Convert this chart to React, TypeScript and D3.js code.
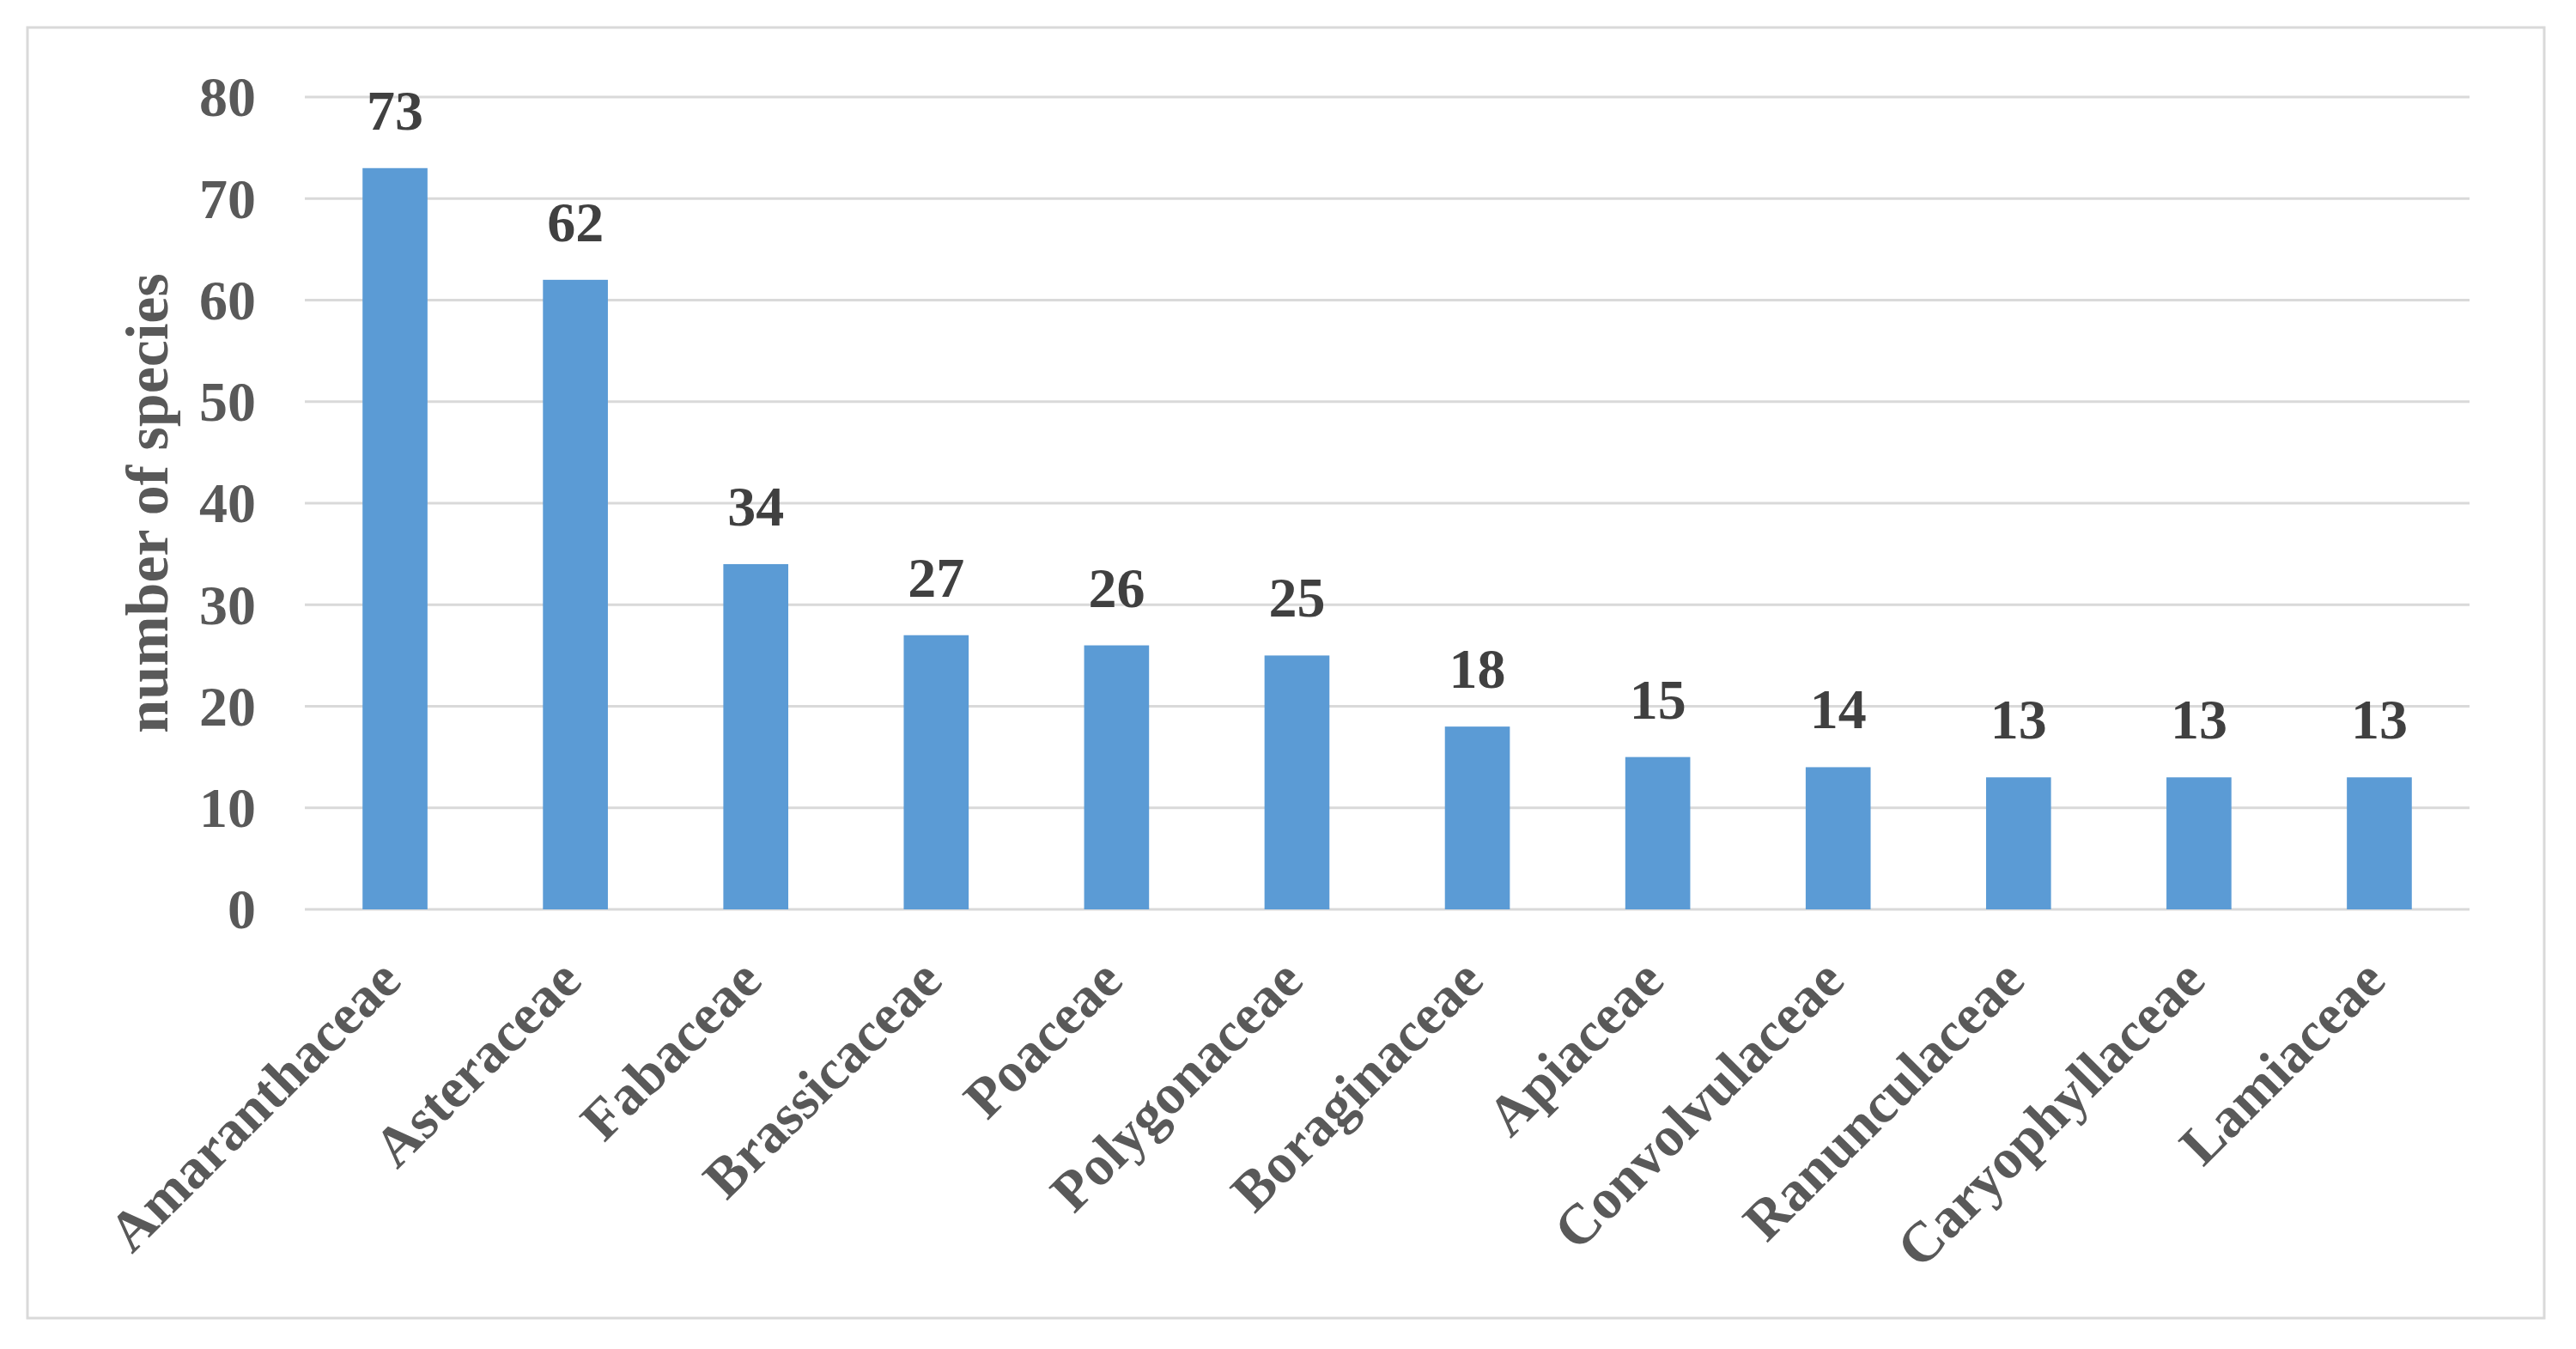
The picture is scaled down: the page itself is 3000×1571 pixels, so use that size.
import React, { useEffect, useRef } from "react";
import * as d3 from "d3";

// families and species counts
const families = [
  "Amaranthaceae", "Asteraceae", "Fabaceae", "Brassicaceae", "Poaceae", "Polygonaceae",
  "Boraginaceae", "Apiaceae", "Convolvulaceae", "Ranunculaceae", "Caryophyllaceae", "Lamiaceae",
];
const counts = [73, 62, 34, 27, 26, 25, 18, 15, 14, 13, 13, 13];
const yTicks = [0, 10, 20, 30, 40, 50, 60, 70, 80];
const yTitle = "number  of  species";

const W = 3000, H = 1571;
const FONT = "'Liberation Serif', 'Times New Roman', serif";

export default function App() {
  const ref = useRef<SVGSVGElement>(null);

  useEffect(() => {
    const svg = d3.select(ref.current);
    svg.selectAll("*").remove();

    var margin = { top: 113, left: 355, right: W - 2876, bottom: H - 1059 };

    const x = d3.scaleBand()
      .domain(families)
      .range([margin.left, W - margin.right])
      .paddingInner(0.64)
      .paddingOuter(0.32);
    const y = d3.scaleLinear().domain([0, 80]).range([H - margin.bottom, margin.top]);

    // outer frame
    svg.append("rect")
      .attr("x", 32).attr("y", 32)
      .attr("width", 2931).attr("height", 1503)
      .attr("fill", "white")
      .attr("stroke", "#d9d9d9").attr("stroke-width", 3);

    // gridlines
    svg.append("g").selectAll("line")
      .data(yTicks).join("line")
      .attr("x1", margin.left).attr("x2", W - margin.right)
      .attr("y1", d => y(d)).attr("y2", d => y(d))
      .attr("stroke", "#d9d9d9").attr("stroke-width", 3);

    // y tick labels
    svg.append("g").selectAll("text")
      .data(yTicks).join("text")
      .attr("x", 298).attr("y", d => y(d))
      .attr("dy", "0.34em")
      .attr("text-anchor", "end")
      .attr("font-family", FONT).attr("font-weight", "bold").attr("font-size", 66)
      .attr("fill", "#595959")
      .text(d => d);

    // bars
    const data = families.map((f, i) => ({ f, v: counts[i] }));
    svg.append("g").selectAll("rect")
      .data(data).join("rect")
      .attr("x", d => x(d.f)!)
      .attr("y", d => y(d.v))
      .attr("width", x.bandwidth())
      .attr("height", d => y(0) - y(d.v))
      .attr("fill", "#5b9bd5");

    // value labels
    svg.append("g").selectAll("text")
      .data(data).join("text")
      .attr("x", d => x(d.f)! + x.bandwidth() / 2)
      .attr("y", d => y(d.v) - 45)
      .attr("text-anchor", "middle")
      .attr("font-family", FONT).attr("font-weight", "bold").attr("font-size", 66)
      .attr("fill", "#404040")
      .text(d => d.v);

    // category labels
    svg.append("g").selectAll("text")
      .data(families).join("text")
      .attr("transform", d => `translate(${x(d)! + x.bandwidth() / 2 + 10}, ${y(0) + 86}) rotate(-45)`)
      .attr("text-anchor", "end")
      .attr("font-family", FONT).attr("font-weight", "bold").attr("font-size", 66)
      .attr("fill", "#595959")
      .text(d => d);

    // y axis title
    svg.append("text")
      .attr("transform", `translate(195, ${(y(0) + y(80)) / 2}) rotate(-90)`)
      .attr("text-anchor", "middle")
      .attr("font-family", FONT).attr("font-weight", "bold").attr("font-size", 70)
      .attr("fill", "#595959")
      .text(yTitle);
  }, []);

  return (
    <svg ref={ref} width={W} height={H}
      style={{ position: "absolute", left: 0, top: 0, background: "white" }} />
  );
}
